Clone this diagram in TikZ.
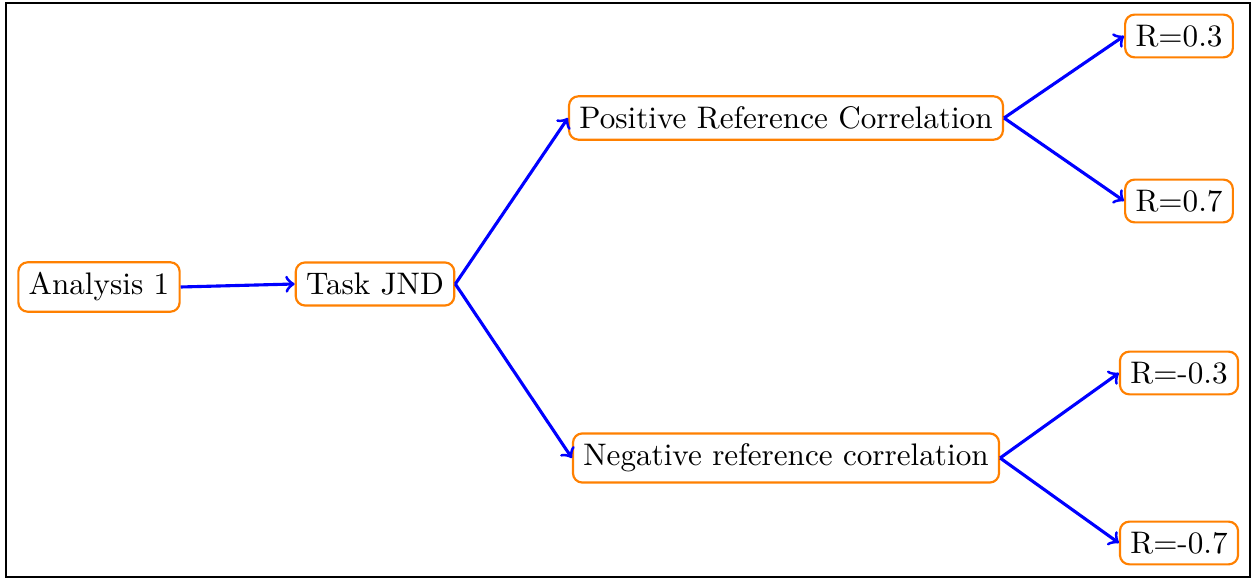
\documentclass[tikz,border=0pt]{standalone}
\begin{document}
\begin{tikzpicture}[x=0.321pt, y=-0.321pt,
  box/.style={draw=orange, line width=0.7pt, rounded corners=3pt, inner sep=3.33pt},
  link/.style={->, blue, line width=1pt}]
  \useasboundingbox (0,0) rectangle (1257,579);
  \draw[black, line width=0.35pt] (6,3) rectangle (1250,577);
  \node[box] (a1) at (99,287) {Analysis 1};
  \node[box] (jnd) at (375,284) {Task JND};
  \node[box] (pos) at (786,118) {Positive Reference Correlation};
  \node[box] (neg) at (786,458) {Negative reference correlation};
  \node[box] (p3) at (1179,36) {R=0.3};
  \node[box] (p7) at (1179,201) {R=0.7};
  \node[box] (n3) at (1179,373) {R=-0.3};
  \node[box] (n7) at (1179,543) {R=-0.7};
  \draw[link] (a1.east) -- (jnd.west);
  \draw[link] (jnd.east) -- (pos.west);
  \draw[link] (jnd.east) -- (neg.west);
  \draw[link] (pos.east) -- (p3.west);
  \draw[link] (pos.east) -- (p7.west);
  \draw[link] (neg.east) -- (n3.west);
  \draw[link] (neg.east) -- (n7.west);
\end{tikzpicture}
\end{document}
